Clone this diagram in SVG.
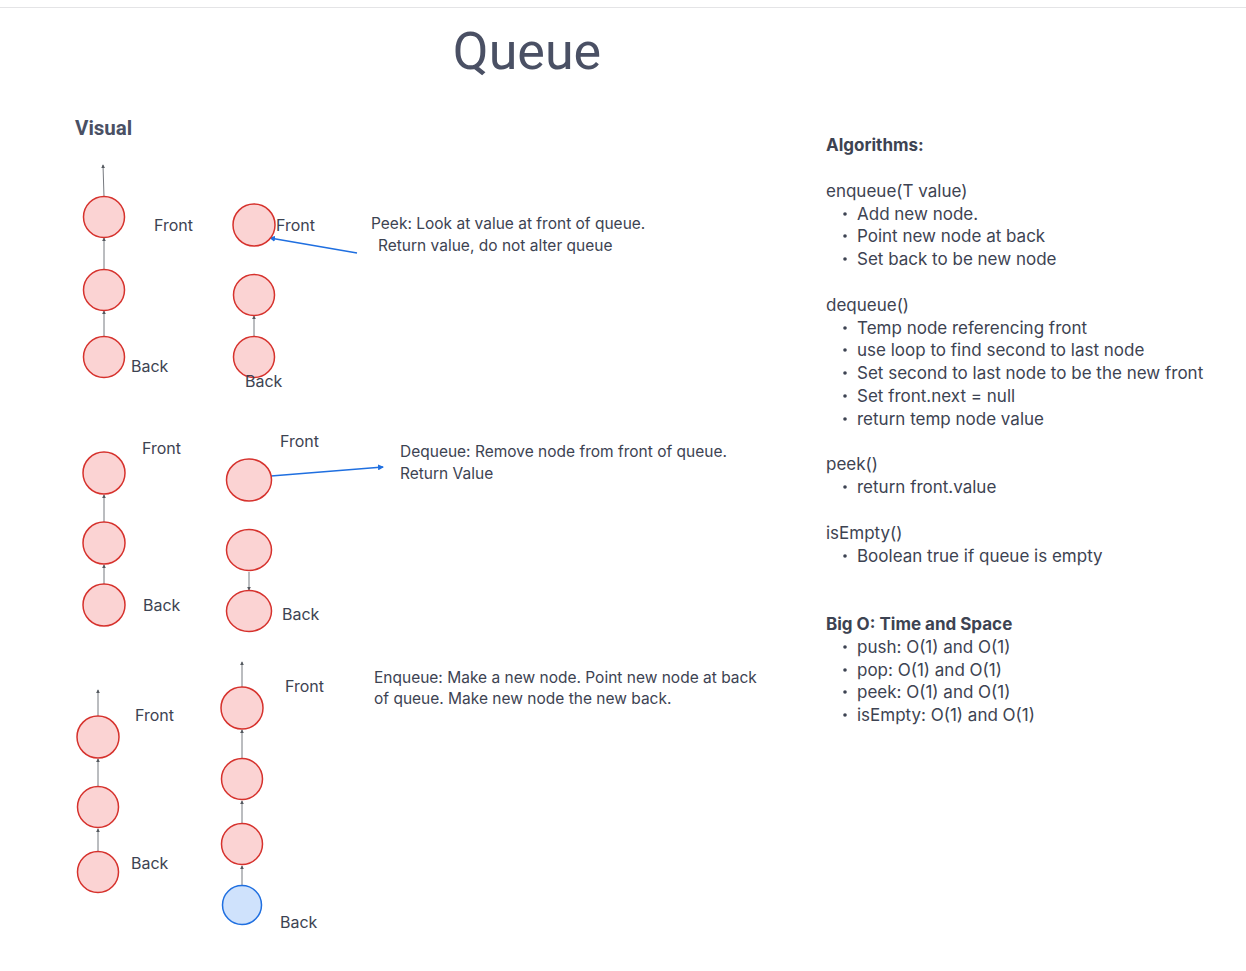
<svg xmlns="http://www.w3.org/2000/svg" width="1246" height="971" viewBox="0 0 1246 971">
<defs>
<style>
.t{font-family:Inter,"Liberation Sans",sans-serif;font-size:16px;fill:#3d4352}
.r{font-family:Inter,"Liberation Sans",sans-serif;font-size:17px;fill:#3d4352}
.s{font-family:Inter,"Liberation Sans",sans-serif;font-size:15.5px;fill:#3d4352}
.b{font-family:Inter,"Liberation Sans",sans-serif;font-size:17px;font-weight:bold;fill:#3d4352}
.dot{fill:#3d4352}
.n{fill:#fbd3d3;stroke:#d6322d;stroke-width:1.5}
.nb{fill:#cfe2fc;stroke:#1f6fe0;stroke-width:1.5}
.c{stroke:#777a80;stroke-width:1;fill:none;marker-end:url(#ag)}
.cb{stroke:#1f6fe0;stroke-width:1.5;fill:none;marker-end:url(#ab)}
</style>
<marker id="ag" viewBox="0 0 6 6" refX="5" refY="3" markerWidth="4" markerHeight="4" orient="auto"><path d="M0,0 L6,3 L0,6 z" fill="#555a60"/></marker>
<marker id="ab" viewBox="0 0 6 6" refX="5" refY="3" markerWidth="4" markerHeight="4" orient="auto"><path d="M0,0 L6,3 L0,6 z" fill="#1f6fe0"/></marker>
</defs>
<rect width="1246" height="971" fill="#ffffff"/>
<line x1="0" y1="7.5" x2="1246" y2="7.5" stroke="#e4e4e6" stroke-width="1"/>
<text x="527" y="69" text-anchor="middle" style="font-family:Roboto,'Liberation Sans',sans-serif;font-size:52px;fill:#4a5064">Queue</text>
<text x="75" y="135" style="font-family:Roboto,'Liberation Sans',sans-serif;font-size:20.5px;font-weight:bold;fill:#4a5064">Visual</text>

<g id="connectors">
<line class="c" x1="104" y1="197" x2="103" y2="165"/>
<line class="c" x1="104" y1="270" x2="104" y2="238"/>
<line class="c" x1="104" y1="337" x2="104" y2="311"/>
<line class="c" x1="254" y1="337" x2="254" y2="316"/>
<line class="c" x1="254" y1="278" x2="254" y2="275"/>
<line class="cb" x1="357" y1="253" x2="270" y2="238"/>
<line class="c" x1="104" y1="584" x2="104" y2="565"/>
<line class="c" x1="104" y1="522" x2="104" y2="495"/>
<line class="c" x1="249" y1="572" x2="249" y2="590"/>
<line class="cb" x1="271" y1="476" x2="383" y2="467"/>
<line class="c" x1="98" y1="716" x2="98" y2="690"/>
<line class="c" x1="98" y1="786" x2="98" y2="759"/>
<line class="c" x1="98" y1="851" x2="98" y2="829"/>
<line class="c" x1="242" y1="687" x2="242" y2="662"/>
<line class="c" x1="242" y1="758" x2="242" y2="730"/>
<line class="c" x1="242" y1="823" x2="242" y2="801"/>
<line class="c" x1="242" y1="885" x2="242" y2="866"/>
</g>

<g id="g1a-front"><circle class="n" cx="104" cy="217" r="20.5"/></g>
<g id="g1a-mid"><circle class="n" cx="104" cy="290" r="20.5"/></g>
<g id="g1a-back"><circle class="n" cx="104" cy="357" r="20.5"/></g>
<text class="t" x="154" y="231">Front</text>
<text class="t" x="131" y="372">Back</text>

<g id="g1b-front"><circle class="n" cx="254" cy="225" r="21"/></g>
<g id="g1b-mid"><circle class="n" cx="254" cy="295" r="20.5"/></g>
<g id="g1b-back"><circle class="n" cx="254" cy="357" r="20.5"/></g>
<text class="t" x="276" y="231">Front</text>
<text class="t" x="245" y="387">Back</text>
<text class="s" x="371" y="229">Peek: Look at value at front of queue.</text>
<text class="s" x="378" y="251">Return value, do not alter queue</text>

<g id="g2a-front"><circle class="n" cx="104" cy="473" r="21"/></g>
<g id="g2a-mid"><circle class="n" cx="104" cy="543" r="21"/></g>
<g id="g2a-back"><circle class="n" cx="104" cy="605" r="21"/></g>
<text class="t" x="142" y="454">Front</text>
<text class="t" x="143" y="611">Back</text>

<g id="g2b-front"><ellipse class="n" cx="249" cy="480" rx="22.5" ry="21"/></g>
<g id="g2b-mid"><ellipse class="n" cx="249" cy="550" rx="22.5" ry="20.5"/></g>
<g id="g2b-back"><ellipse class="n" cx="249" cy="611" rx="22.5" ry="20.5"/></g>
<text class="t" x="280" y="447">Front</text>
<text class="t" x="282" y="620">Back</text>
<text class="s" x="400" y="457">Dequeue: Remove node from front of queue.</text>
<text class="s" x="400" y="479">Return Value</text>

<g id="g3a-front"><circle class="n" cx="98" cy="737" r="21"/></g>
<g id="g3a-mid"><circle class="n" cx="98" cy="807" r="20.5"/></g>
<g id="g3a-back"><circle class="n" cx="98" cy="872" r="20.5"/></g>
<text class="t" x="135" y="721">Front</text>
<text class="t" x="131" y="869">Back</text>

<g id="g3b-front"><circle class="n" cx="242" cy="708" r="21"/></g>
<g id="g3b-n2"><circle class="n" cx="242" cy="779" r="20.5"/></g>
<g id="g3b-n3"><circle class="n" cx="242" cy="844" r="20.5"/></g>
<g id="g3b-back"><circle class="nb" cx="242" cy="905" r="19.5"/></g>
<text class="t" x="285" y="692">Front</text>
<text class="t" x="280" y="928">Back</text>
<text class="s" x="374" y="683">Enqueue: Make a new node. Point new node at back</text>
<text class="s" x="374" y="704">of queue. Make new node the new back.</text>

<g id="algorithms">
<text class="b" x="826" y="151">Algorithms:</text>
<text class="r" x="826" y="197">enqueue(T value)</text>
<circle class="dot" cx="845" cy="214" r="1.8"/><text class="r" x="857" y="220">Add new node.</text>
<circle class="dot" cx="845" cy="236" r="1.8"/><text class="r" x="857" y="242">Point new node at back</text>
<circle class="dot" cx="845" cy="259" r="1.8"/><text class="r" x="857" y="265">Set back to be new node</text>
<text class="r" x="826" y="311">dequeue()</text>
<circle class="dot" cx="845" cy="328" r="1.8"/><text class="r" x="857" y="334">Temp node referencing front</text>
<circle class="dot" cx="845" cy="350" r="1.8"/><text class="r" x="857" y="356">use loop to find second to last node</text>
<circle class="dot" cx="845" cy="373" r="1.8"/><text class="r" x="857" y="379">Set second to last node to be the new front</text>
<circle class="dot" cx="845" cy="396" r="1.8"/><text class="r" x="857" y="402">Set front.next = null</text>
<circle class="dot" cx="845" cy="419" r="1.8"/><text class="r" x="857" y="425">return temp node value</text>
<text class="r" x="826" y="470">peek()</text>
<circle class="dot" cx="845" cy="487" r="1.8"/><text class="r" x="857" y="493">return front.value</text>
<text class="r" x="826" y="539">isEmpty()</text>
<circle class="dot" cx="845" cy="556" r="1.8"/><text class="r" x="857" y="562">Boolean true if queue is empty</text>
<text class="b" x="826" y="630">Big O: Time and Space</text>
<circle class="dot" cx="845" cy="647" r="1.8"/><text class="r" x="857" y="653">push: O(1) and O(1)</text>
<circle class="dot" cx="845" cy="670" r="1.8"/><text class="r" x="857" y="676">pop: O(1) and O(1)</text>
<circle class="dot" cx="845" cy="692" r="1.8"/><text class="r" x="857" y="698">peek: O(1) and O(1)</text>
<circle class="dot" cx="845" cy="715" r="1.8"/><text class="r" x="857" y="721">isEmpty: O(1) and O(1)</text>
</g>
</svg>
